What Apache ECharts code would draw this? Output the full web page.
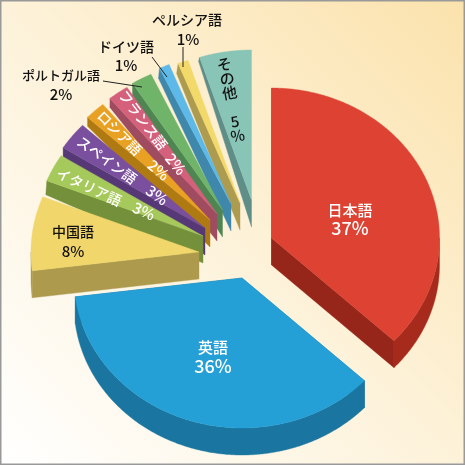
<!DOCTYPE html>
<html><head><meta charset="utf-8">
<style>html,body{margin:0;padding:0;background:#fff;overflow:hidden}#c{width:465px;height:465px}</style>
<script src="https://cdn.jsdelivr.net/npm/echarts@6/dist/echarts.min.js"></script>
</head><body><div id="c"></div>
<script>
var languages = ['日本語','英語','中国語','イタリア語','スペイン語','ロシア語','フランス語','ポルトガル語','ドイツ語','ペルシア語','その他'];
var shares = [37,36,8,3,3,2,2,2,1,1,5];
var topColors = ['#DD4232','#25A0D6','#F1D66B','#A6C95B','#7A4F9E','#E9A124','#D5607C','#70B46A','#5DB9E8','#F2D96A','#89C5B6'];
var wallColors = ['#97261A','#1A76A0','#AD9A4C','#74903A','#573877','#AF7A12','#9F4C60','#4F8552','#3F88AC','#AD9B50','#5F8E88'];
var arcWallColors = ['#A62B1C','#1A76A0','#AD9A4C','#74903A','#573877','#AF7A12','#9F4C60','#4F8552','#3F88AC','#AD9B50','#5F8E88'];
// layout: apex of each slice on the page, painter's order, wall offset at the slice's outer corner
var apexes = [[271.5,238],[242,278],[199,252],[203,236],[205,228],[210,220],[217,214],[222.5,210],[231,204],[240,203],[251.5,200]];
var paintOrder = [10,11,9,8,7,6,5,4,3,2,1];
var outerWall = [[0,27],[0,27],[0,27],[-1,14],[0,9],[0,9],[0,9],[0,12],[-1,10],[-1.5,10],[-1,4]];
var RX = 168, RY = 150, DEPTH = 27;
// layout: text placement [x,y,deg]; name then percent
var namePlace = [[350,210,0],[213,347,0],[73,232,0],[89,187,-25],[107,160,-36],[119.5,133,-45],[143,120,-53],[61,75,0],[126,47,0],[187,20,0],[231,100,0]];
var pctPlace = [[350,228,0],[213,366,0],[73,251,0],[144,211,-25],[157,195,-36],[158.5,170,-40],[176,164,-50],[61,94,0],[126,65,0],[188,39,0],[0,0,0]];
var nameSize = [15,15,14,14,14,14,14,13,14,14,15];
var whiteText = [1,1,0,1,1,1,1,0,0,0,0];
var leaders = [[183,47,183,67],[152,57,167,77],[103,81,142,87]];
var FONT = '"Noto Sans CJK JP","Noto Sans",sans-serif';

function startAngle(i){var s=0;for(var k=0;k<i;k++)s+=shares[k];return s*3.6;}
function pt(a,ang){var r=ang*Math.PI/180;return [a[0]+RX*Math.sin(r),a[1]-RY*Math.cos(r)];}

function renderSlice(params, api){
  var i = params.dataIndex, a0 = startAngle(i), a1 = a0 + api.value(0)*3.6, A = apexes[i], z = paintOrder[i]*2;
  var arc=[], low=[], t;
  for(t=a0;t<a1;t+=0.5){arc.push(pt(A,t));}
  arc.push(pt(A,a1));
  var from=Math.max(a0,90), to=Math.min(a1,270);
  if(to>from){for(t=from;t<to;t+=0.5){low.push(pt(A,t));} low.push(pt(A,to));}
  var B=[A[0],A[1]+DEPTH];
  function poly(points,color,zz){return {type:'polygon',z2:zz,shape:{points:points},style:{fill:color,stroke:color,lineWidth:0.4}};}
  var kids=[];
  var c0=arc[0], c0l=[c0[0]+outerWall[i][0],c0[1]+outerWall[i][1]];
  kids.push(poly([A,c0,c0l,B],wallColors[i],z));
  if(a1>90&&a1<270){
    var c1=arc[arc.length-1];
    kids.push(poly([A,c1,[c1[0],c1[1]+DEPTH],B],wallColors[i],z));
  }
  if(low.length){
    var lowDown=low.map(function(p){return [p[0],p[1]+DEPTH];}).reverse();
    kids.push(poly(low.concat(lowDown),arcWallColors[i],z));
  }
  kids.push(poly([A].concat(arc),topColors[i],z+1));
  var fill = whiteText[i] ? '#fff' : '#111';
  function text(s,p,size){return {type:'text',z2:100,x:p[0],y:p[1],rotation:p[2]*Math.PI/180,
    style:{text:s,fill:fill,font:'500 '+size+'px '+FONT,align:'center',verticalAlign:'middle',lineHeight:size}};}
  var pct = api.value(0)+'%';
  if(i===10){
    kids.push({type:'text',z2:100,x:namePlace[i][0],y:namePlace[i][1],rotation:10.5*Math.PI/180,
      style:{text:languages[i].split('').join('\n')+'\n\n'+api.value(0)+'\n%',fill:fill,font:'500 15px '+FONT,align:'center',verticalAlign:'middle',lineHeight:14.5}});
  } else {
    kids.push(text(languages[i],namePlace[i],nameSize[i]));
    kids.push(text(pct,pctPlace[i],i<2?18:15));
  }
  return {type:'group',children:kids};
}

var chart = echarts.init(document.getElementById('c'),null,{renderer:'canvas',width:465,height:465});
chart.setOption({
  animation:false,
  backgroundColor:new echarts.graphic.LinearGradient(0,1,1,0,[{offset:0,color:'#FFFFFF'},{offset:0.5,color:'#FDF2D9'},{offset:1,color:'#FBE2AC'}]),
  graphic:[{type:'rect',z:0,shape:{x:0.75,y:0.75,width:463.5,height:463.5},style:{fill:'none',stroke:'#999',lineWidth:1.5}}].concat(
    leaders.map(function(l){return {type:'line',z:10,shape:{x1:l[0],y1:l[1],x2:l[2],y2:l[3]},style:{stroke:'#222',lineWidth:1}};})),
  series:[{type:'custom',coordinateSystem:'none',silent:true,data:shares,renderItem:renderSlice}]
});
</script></body></html>
